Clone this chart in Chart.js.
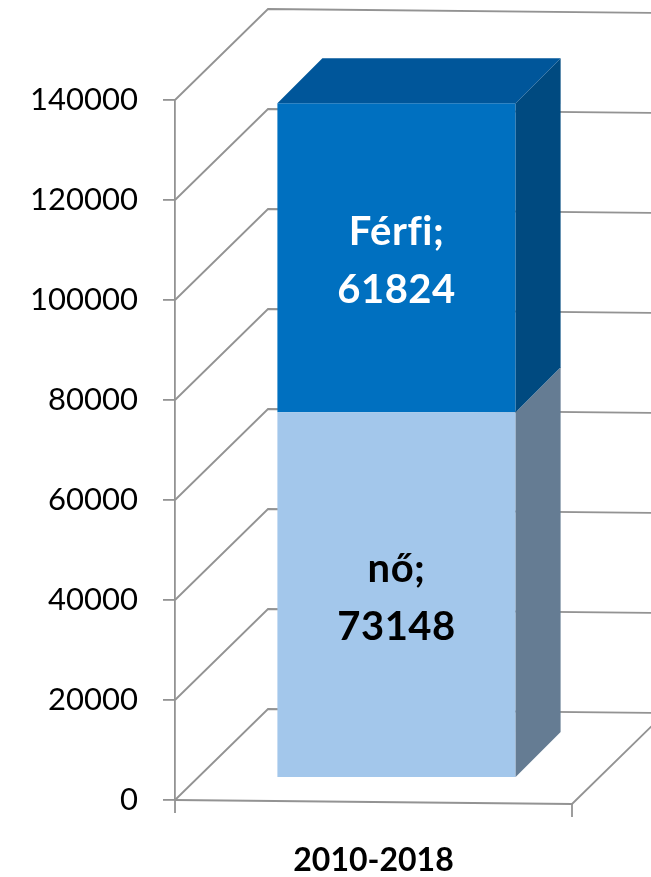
<!DOCTYPE html>
<html>
<head>
<meta charset="utf-8">
<script src="https://cdn.jsdelivr.net/npm/chart.js@4/dist/chart.umd.min.js"></script>
<style>
  html, body { margin: 0; padding: 0; background: #ffffff; }
  #wrap { width: 651px; height: 877px; }
</style>
</head>
<body>
<div id="wrap"><canvas id="c" width="651" height="877"></canvas></div>
<script>
// ---- data ----
const categories = ['2010-2018'];
const seriesNames = ['nő', 'Férfi'];
const noValues = [73148];
const ferfiValues = [61824];
const yTickValues = [0, 20000, 40000, 60000, 80000, 100000, 120000, 140000];

// ---- styles ----
const FONT = 'Lato, "Open Sans", "DejaVu Sans", sans-serif';
const GRID = '#939393';
const WALL = { dx: 93, dy: -91, tilt: 4 };        // depth of the 3D box
const BAR_OFF = { dx: 23, dy: -22 };               // bar front face set into the box
const BAR_DEPTH = { dx: 45, dy: -45 };             // depth of the bar itself
const faceColors = {
  'nő':    { front: '#A3C7EB', side: '#657C93', top: '#7D9AB8', text: '#000000' },
  'Férfi': { front: '#0070C0', side: '#004A80', top: '#00569A', text: '#ffffff' }
};

const box3d = {
  id: 'box3d',
  beforeDatasetsDraw(chart) {
    const ctx = chart.ctx;
    const ys = chart.scales.y;
    const a = chart.chartArea;
    const W = chart.width;
    ctx.save();
    ctx.strokeStyle = GRID;
    ctx.lineWidth = 1.8;
    ctx.lineCap = 'butt';
    yTickValues.forEach(v => {
      const y = ys.getPixelForValue(v);
      const bx = a.left + WALL.dx, by = y + WALL.dy;
      ctx.beginPath();
      ctx.moveTo(a.left, y);
      ctx.lineTo(bx, by);
      ctx.lineTo(W + 2, by + WALL.tilt * (W + 2 - bx) / (a.right + WALL.dx - bx));
      ctx.stroke();
    });
    // floor front edge, right floor edge and category tick marks
    const y0 = ys.getPixelForValue(0);
    ctx.beginPath();
    ctx.moveTo(a.left, y0);
    ctx.lineTo(a.right, y0 + WALL.tilt);
    ctx.lineTo(a.right + WALL.dx, y0 + WALL.tilt + WALL.dy);
    ctx.stroke();
    ctx.beginPath();
    ctx.moveTo(a.left, y0);
    ctx.lineTo(a.left, y0 + 13);
    ctx.moveTo(a.right, y0 + WALL.tilt);
    ctx.lineTo(a.right, y0 + WALL.tilt + 13);
    ctx.stroke();
    ctx.restore();

    ctx.save();
    ctx.translate(BAR_OFF.dx, BAR_OFF.dy);
  },
  afterDatasetsDraw(chart) {
    const ctx = chart.ctx;
    const n = chart.data.datasets.length;
    chart.data.datasets.forEach((ds, di) => {
      const meta = chart.getDatasetMeta(di);
      const col = faceColors[ds.label];
      meta.data.forEach((el, i) => {
        const p = el.getProps(['x', 'y', 'base', 'width'], true);
        const left = p.x - p.width / 2, right = p.x + p.width / 2;
        // side face
        ctx.fillStyle = col.side;
        ctx.beginPath();
        ctx.moveTo(right, p.y);
        ctx.lineTo(right + BAR_DEPTH.dx, p.y + BAR_DEPTH.dy);
        ctx.lineTo(right + BAR_DEPTH.dx, p.base + BAR_DEPTH.dy);
        ctx.lineTo(right, p.base);
        ctx.closePath();
        ctx.fill();
        // top face for the topmost segment
        if (di === n - 1) {
          ctx.fillStyle = col.top;
          ctx.beginPath();
          ctx.moveTo(left, p.y);
          ctx.lineTo(left + BAR_DEPTH.dx, p.y + BAR_DEPTH.dy);
          ctx.lineTo(right + BAR_DEPTH.dx, p.y + BAR_DEPTH.dy);
          ctx.lineTo(right, p.y);
          ctx.closePath();
          ctx.fill();
        }
        // data labels
        const mid = (p.y + p.base) / 2;
        const val = ds.data[i];
        ctx.fillStyle = col.text;
        ctx.font = 'bold 40px ' + FONT;
        ctx.textAlign = 'center';
        ctx.textBaseline = 'middle';
        try { ctx.letterSpacing = '0.5px'; } catch (e) {}
        ctx.fillText(ds.label + ';', p.x, mid - 26);
        ctx.fillText(String(val), p.x, mid + 32);
        try { ctx.letterSpacing = '0px'; } catch (e) {}
      });
    });
    ctx.restore();
  }
};

new Chart(document.getElementById('c'), {
  type: 'bar',
  data: {
    labels: categories,
    datasets: [
      { label: seriesNames[0], data: noValues, backgroundColor: faceColors['nő'].front, borderWidth: 0,
        categoryPercentage: 0.6, barPercentage: 1 },
      { label: seriesNames[1], data: ferfiValues, backgroundColor: faceColors['Férfi'].front, borderWidth: 0,
        categoryPercentage: 0.6, barPercentage: 1 }
    ]
  },
  options: {
    responsive: false,
    devicePixelRatio: 1,
    animation: false,
    layout: { padding: { left: 0, right: 79, top: 100, bottom: 0 } },
    plugins: { legend: { display: false }, tooltip: { enabled: false } },
    scales: {
      x: {
        stacked: true,
        grid: { display: false },
        border: { display: false },
        ticks: { color: '#000000', font: { family: FONT, size: 32, weight: 'bold' }, padding: 33 },
        afterFit(s) { s.height = 77; }
      },
      y: {
        stacked: true,
        min: 0,
        max: 140000,
        afterBuildTicks(s) { s.ticks = yTickValues.map(v => ({ value: v })); },
        ticks: {
          color: '#000000',
          font: { family: FONT, size: 31 },
          padding: 25,
          callback: v => String(v)
        },
        grid: { drawOnChartArea: false, drawTicks: true, tickLength: 12, color: GRID, lineWidth: 1.8 },
        border: { display: true, color: GRID, width: 1.8 },
        afterFit(s) { s.width = 175; }
      }
    }
  },
  plugins: [box3d]
});
</script>
</body>
</html>
